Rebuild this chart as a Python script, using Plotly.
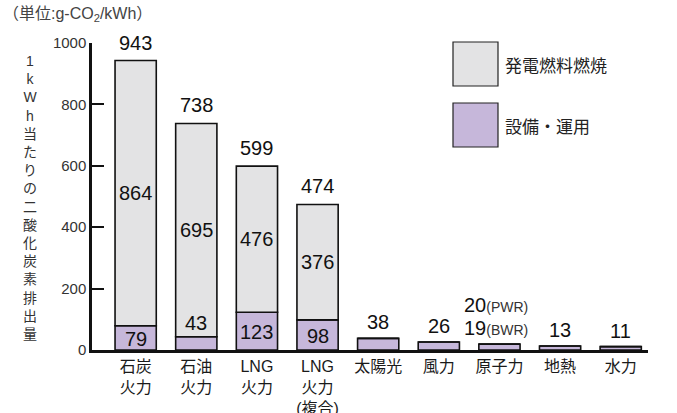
import plotly.graph_objects as go

categories = ["石炭<br>火力", "石油<br>火力", "LNG<br>火力", "LNG<br>火力<br>(複合)", "太陽光", "風力", "原子力", "地熱", "水力"]
fuel = [864, 695, 476, 376, 0, 0, 0, 0, 0]          # 発電燃料燃焼
facility = [79, 43, 123, 98, 38, 26, 19, 13, 11]    # 設備・運用
totals = [943, 738, 599, 474, 38, 26, 19, 13, 11]
nuclear_pwr = 20
y_ticks = [0, 200, 400, 600, 800, 1000]

FONT = "Noto Sans CJK JP"
MIX = "Liberation Sans, Noto Sans CJK JP"
NUM = "Liberation Sans"
GRAY = "#e3e3e4"
PURPLE = "#c6b7da"
x = list(range(len(categories)))

L, R, T, B = 92, 29, 43, 63
PW, PH = 677 - L - R, 413 - T - B

fig = go.Figure()
fig.add_trace(go.Bar(x=x, y=facility, marker=dict(color=PURPLE, line=dict(color="#111", width=1.6)),
                     width=0.68, name="設備・運用", showlegend=False))
fig.add_trace(go.Bar(x=x, y=fuel, base=facility, marker=dict(color=GRAY, line=dict(color="#111", width=1.6)),
                     width=0.68, name="発電燃料燃焼", showlegend=False))

ann = []
lab = dict(family=NUM, size=20, color="#111")
for i, (f, p, t) in enumerate(zip(fuel, facility, totals)):
    if f > 0:
        ann.append(dict(x=i, y=t, text=str(t), showarrow=False, yanchor="bottom",
                        yshift=5, font=lab))
        ann.append(dict(x=i, y=p + f / 2, text=str(f), showarrow=False, font=lab))
        if p >= 60:
            ann.append(dict(x=i, y=p / 2, text=str(p), showarrow=False, font=lab, yshift=-1))
        else:
            ann.append(dict(x=i, y=p, text=str(p), showarrow=False, yanchor="bottom", yshift=1, font=lab))
    elif i == 6:
        ann.append(dict(x=i, y=p, text=f"{p}<span style='font-size:14px;color:#333'>(BWR)</span>", showarrow=False,
                        yanchor="bottom", yshift=3, xshift=-3, font=lab))
        ann.append(dict(x=i, y=p, text=f"{nuclear_pwr}<span style='font-size:14px;color:#333'>(PWR)</span>",
                        showarrow=False, yanchor="bottom", yshift=26, xshift=-3, font=lab))
    else:
        ann.append(dict(x=i, y=t, text=str(t), showarrow=False, yanchor="bottom", yshift=3, font=lab))

def px_x(px):
    return (px - L) / PW
def px_y(py):
    return (413 - B - py) / PH

# unit label
ann.append(dict(xref="paper", yref="paper", x=px_x(1), y=px_y(15), xanchor="left", yanchor="middle",
                text="（単位:g-CO<sub>2</sub>/kWh）", showarrow=False,
                font=dict(family=MIX, size=16, color="#444")))
# vertical y-axis title
title_chars = list("1kWh当たりの二酸化炭素排出量")
ann.append(dict(xref="paper", yref="paper", x=px_x(30), y=px_y(197), xanchor="center", yanchor="middle",
                text="<br>".join(title_chars), showarrow=False,
                font=dict(family=MIX, size=14, color="#333")))

# custom legend
shapes = []
for (y0, y1, col, txt) in [(42, 86, GRAY, "発電燃料燃焼"), (103, 147, PURPLE, "設備・運用")]:
    shapes.append(dict(type="rect", xref="paper", yref="paper", x0=px_x(453), x1=px_x(498),
                       y0=px_y(y1), y1=px_y(y0), fillcolor=col, line=dict(color="#222", width=1.2)))
    ann.append(dict(xref="paper", yref="paper", x=px_x(503), y=px_y((y0 + y1) / 2), xanchor="left",
                    yanchor="middle", text=txt, showarrow=False, font=dict(family=FONT, size=17, color="#222")))

fig.update_layout(
    width=677, height=413,
    margin=dict(l=L, r=R, t=T, b=B),
    plot_bgcolor="white", paper_bgcolor="white",
    barmode="overlay",
    annotations=ann, shapes=shapes,
    font=dict(family=FONT),
)
fig.update_xaxes(tickmode="array", tickvals=x, ticktext=categories, range=[-0.72, 8.45],
                 showline=True, linecolor="#111", linewidth=3, ticks="", showgrid=False, automargin=False,
                 tickfont=dict(family=MIX, size=16, color="#1a1a1a"))
fig.update_yaxes(range=[0, 1000], tickvals=y_ticks, showline=True, linecolor="#111", linewidth=2.5,
                 ticks="inside", ticklen=12, tickwidth=2, tickcolor="#111", showgrid=False, zeroline=False,
                 automargin=False, tickfont=dict(family=NUM, size=15, color="#333"))

fig.write_html("out.html", config={"displayModeBar": False},
               post_script="document.body.style.margin='0';document.body.style.padding='0';")
